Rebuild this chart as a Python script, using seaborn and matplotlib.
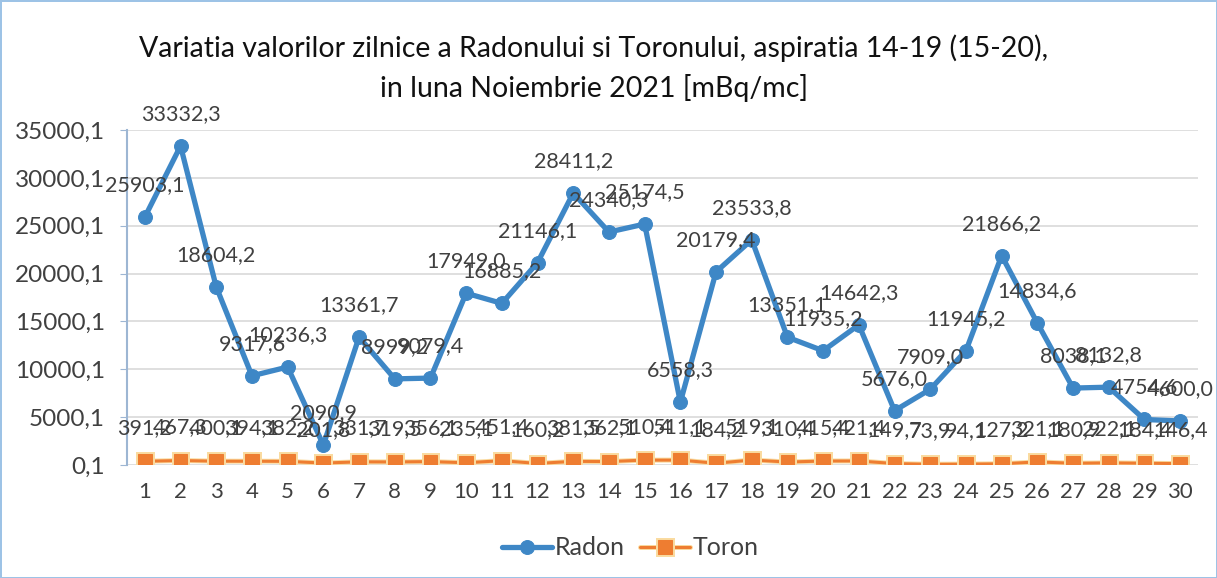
import matplotlib
matplotlib.use("Agg")
import matplotlib.pyplot as plt
import matplotlib.patheffects as pe
import seaborn as sns
import pandas as pd
import numpy as np

days = list(range(1, 31))
radon = [25903.1, 33332.3, 18604.2, 9317.6, 10236.3, 2090.9, 13361.7, 8999.2, 9079.4, 17949.0,
         16885.2, 21146.1, 28411.2, 24340.3, 25174.5, 6558.3, 20179.4, 23533.8, 13351.1, 11935.2,
         14642.3, 5676.0, 7909.0, 11945.2, 21866.2, 14834.6, 8038.1, 8132.8, 4754.6, 4600.0]
toron = [391.2, 467.3, 400.1, 394.1, 382.2, 201.8, 331.7, 319.5, 356.1, 235.1,
         451.4, 160.2, 381.5, 362.1, 510.4, 511.1, 184.2, 519.1, 310.4, 415.4,
         421.4, 149.7, 73.9, 94.1, 127.2, 321.1, 180.9, 222.1, 184.4, 146.4]
yticks = [0.1, 5000.1, 10000.1, 15000.1, 20000.1, 25000.1, 30000.1, 35000.1]
title = "Variatia valorilor zilnice a Radonului si Toronului, aspiratia 14-19 (15-20),\nin luna Noiembrie 2021 [mBq/mc]"

sns.set_style("white")
plt.rcParams['font.family'] = ['Lato', 'DejaVu Sans']

df = pd.DataFrame({"day": days, "Radon": radon, "Toron": toron})

fig = plt.figure(figsize=(12.17, 5.78), dpi=100)
fig.patch.set_edgecolor('#9DC3E6')
fig.patch.set_linewidth(2)
ax = fig.add_axes([127/1217, (578-465)/578, (1198-127)/1217, (465-130)/578])

blue = '#3E87C6'
orange = '#EE7D31'
sns.lineplot(data=df, x="day", y="Radon", ax=ax, color=blue, linewidth=3.8,
             marker='o', markersize=10, markeredgecolor=blue, label="Radon", zorder=3)
sns.lineplot(data=df, x="day", y="Toron", ax=ax, color=orange, linewidth=2.2,
             marker='s', markersize=10, markeredgecolor=orange, label="Toron", zorder=3)
ax.lines[1].set_path_effects([pe.Stroke(linewidth=3.6, foreground='#FADBA0'), pe.Normal()])

fmt = lambda v: f"{v:.1f}".replace('.', ',')
for d, v in zip(days, radon):
    ax.annotate(fmt(v), (d, v), xytext=(0, 23), textcoords='offset points',
                ha='center', va='center', fontsize=15.5, color='#404040', zorder=4)
for d, v in zip(days, toron):
    ax.annotate(fmt(v), (d, v), xytext=(0, 24), textcoords='offset points',
                ha='center', va='center', fontsize=15.5, color='#404040', zorder=4)

ax.set_xlim(0.5, 30.5)
ax.set_ylim(0.1, 35000.1)
ax.set_xticks(days)
ax.set_xticklabels([str(d) for d in days], fontsize=16, color='#404040')
ax.set_yticks(yticks)
ax.set_yticklabels([fmt(v) for v in yticks], fontsize=17.5, color='#404040')
ax.tick_params(axis='y', length=5, color='#9DB6D3', pad=11, left=True)
ax.tick_params(axis='x', length=0, pad=12)
ax.yaxis.grid(True, color='#D9D9D9', linewidth=1.2)
ax.set_axisbelow(True)
ax.set_xlabel("")
ax.set_ylabel("")
for s in ['top', 'right', 'bottom']:
    ax.spines[s].set_visible(False)
ax.spines['left'].set_color('#9DB6D3')
ax.spines['left'].set_linewidth(1.5)

fig.text(0.488, 0.882, title, ha='center', va='center', fontsize=20.5, color='#111111',
         linespacing=1.55)

ax.legend(loc='center', bbox_to_anchor=(0.518, 0.052), bbox_transform=fig.transFigure,
          ncol=2, frameon=False, fontsize=18, handlelength=2.0, columnspacing=0.6,
          handletextpad=0.1, labelcolor='#404040')

fig.savefig("out.png", dpi=100)
